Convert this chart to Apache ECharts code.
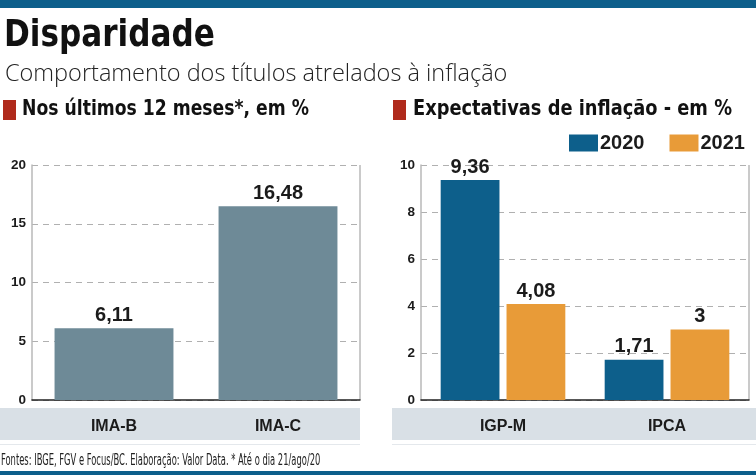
<!DOCTYPE html>
<html>
<head>
<meta charset="utf-8">
<script src="https://cdn.jsdelivr.net/npm/echarts@6/dist/echarts.min.js"></script>
<style>
  html, body { margin: 0; padding: 0; background: #fff; }
  #chart { width: 756px; height: 475px; }
</style>
</head>
<body>
<div id="chart"></div>
<script>
// dados
const leftCategories = ['IMA-B', 'IMA-C']
const leftValues = [6.11, 16.48]
const rightCategories = ['IGP-M', 'IPCA']
const values2020 = [9.36, 1.71]
const values2021 = [4.08, 3]
const leftTicks = { min: 0, max: 20, interval: 5 }
const rightTicks = { min: 0, max: 10, interval: 2 }

const condensed = '"DejaVu Sans Condensed", "DejaVu Sans", sans-serif'
const sans = '"Liberation Sans", Arial, sans-serif'
const ink = '#1b1b1b'
const fmt = v => String(v.value).replace('.', ',')

const valueLabel = {
    show: true,
    position: 'top',
    distance: 3,
    formatter: fmt,
    fontFamily: sans,
    fontWeight: 'bold',
    fontSize: 20,
    color: ink
}

function yAxisOf (idx, ticks) {
    return {
        type: 'value',
        gridIndex: idx,
        min: ticks.min,
        max: ticks.max,
        interval: ticks.interval,
        axisLine: { show: true, lineStyle: { color: '#b8b8b8', width: 1.5 } },
        axisTick: { show: false },
        axisLabel: { color: ink, fontWeight: 'bold', fontSize: 13.5, fontFamily: sans, margin: 6 },
        splitLine: { show: true, lineStyle: { color: '#b0b0b0', type: [6, 5], width: 1 } }
    }
}

function xAxisOf (idx, cats) {
    return {
        type: 'category',
        gridIndex: idx,
        data: cats,
        axisLine: { show: true, lineStyle: { color: '#222', width: 1.5 } },
        axisTick: { show: false },
        axisLabel: {
            color: ink, fontWeight: 'bold', fontSize: 16, fontFamily: sans,
            margin: 19, verticalAlign: 'top'
        }
    }
}

const chart = echarts.init(document.getElementById('chart'))
const option = {
    animation: false,
    backgroundColor: '#fff',
    grid: [
        { left: 32, top: 165, width: 328, height: 235 },
        { left: 421, top: 165, width: 328, height: 235 }
    ],
    xAxis: [xAxisOf(0, leftCategories), xAxisOf(1, rightCategories)],
    yAxis: [yAxisOf(0, leftTicks), yAxisOf(1, rightTicks)],
    legend: {
        orient: 'horizontal',
        left: 569,
        top: 133,
        width: 200,
        padding: 0,
        itemWidth: 29,
        itemHeight: 17,
        itemGap: 25,
        icon: 'rect',
        data: ['2020', '2021'],
        textStyle: { color: ink, fontWeight: 'bold', fontSize: 20, fontFamily: sans, padding: [0, 0, 0, -3] }
    },
    graphic: [
        { type: 'rect', shape: { x: 0, y: 0, width: 756, height: 8 }, style: { fill: '#0d5f8b' }, z: -1 },
        { type: 'rect', shape: { x: 0, y: 471, width: 756, height: 4 }, style: { fill: '#0d5f8b' }, z: -1 },
        { type: 'text', x: 4, y: 17, scaleX: 0.91, style: { text: 'Disparidade', fontSize: 38, fontWeight: 900, fontFamily: condensed, fill: '#111' } },
        { type: 'text', x: 5, y: 62, style: { text: 'Comportamento dos títulos atrelados à inflação', fontSize: 23.5, fontWeight: 300, fontFamily: '"Open Sans", "Noto Sans", sans-serif', fill: '#222' } },
        { type: 'rect', shape: { x: 3, y: 100, width: 13, height: 20 }, style: { fill: '#b02a1c' } },
        { type: 'text', x: 22, y: 98, scaleX: 0.87, style: { text: 'Nos últimos 12 meses*, em %', fontSize: 22, fontWeight: 'bold', fontFamily: condensed, fill: '#111' } },
        { type: 'rect', shape: { x: 393, y: 100, width: 13, height: 20 }, style: { fill: '#b02a1c' } },
        { type: 'text', x: 413, y: 98, scaleX: 0.9, style: { text: 'Expectativas de inflação - em %', fontSize: 22, fontWeight: 'bold', fontFamily: condensed, fill: '#111' } },
        // faixas das categorias
        { type: 'rect', shape: { x: 0, y: 408, width: 360, height: 32 }, style: { fill: '#d9e0e6' }, z: -1 },
        { type: 'rect', shape: { x: 392, y: 408, width: 364, height: 32 }, style: { fill: '#d9e0e6' }, z: -1 },
        // bordas direitas
        { type: 'line', shape: { x1: 360, y1: 165, x2: 360, y2: 400 }, style: { stroke: '#b8b8b8', lineWidth: 1.5 } },
        { type: 'line', shape: { x1: 749, y1: 165, x2: 749, y2: 400 }, style: { stroke: '#b8b8b8', lineWidth: 1.5 } },
        { type: 'rect', shape: { x: 0, y: 444, width: 360, height: 1 }, style: { fill: '#e4e8ec' } },
        { type: 'rect', shape: { x: 392, y: 444, width: 364, height: 1 }, style: { fill: '#e4e8ec' } },
        { type: 'text', x: 1, y: 454, scaleX: 0.62, style: { text: 'Fontes: IBGE, FGV e Focus/BC. Elaboração: Valor Data. * Até o dia 21/ago/20', fontSize: 15, fontFamily: condensed, fill: '#222' } }
    ],
    series: [
        {
            name: 'Últimos 12 meses',
            type: 'bar',
            xAxisIndex: 0,
            yAxisIndex: 0,
            barWidth: '72.5%',
            itemStyle: { color: '#6e8a97' },
            label: valueLabel,
            data: leftValues
        },
        {
            name: '2020',
            type: 'bar',
            xAxisIndex: 1,
            yAxisIndex: 1,
            barGap: '12%',
            barCategoryGap: '24%',
            itemStyle: { color: '#0d5f8b' },
            label: valueLabel,
            data: values2020
        },
        {
            name: '2021',
            type: 'bar',
            xAxisIndex: 1,
            yAxisIndex: 1,
            barGap: '12%',
            barCategoryGap: '24%',
            itemStyle: { color: '#e89b38' },
            label: valueLabel,
            data: values2021
        }
    ]
}
chart.setOption(option)
</script>
</body>
</html>
